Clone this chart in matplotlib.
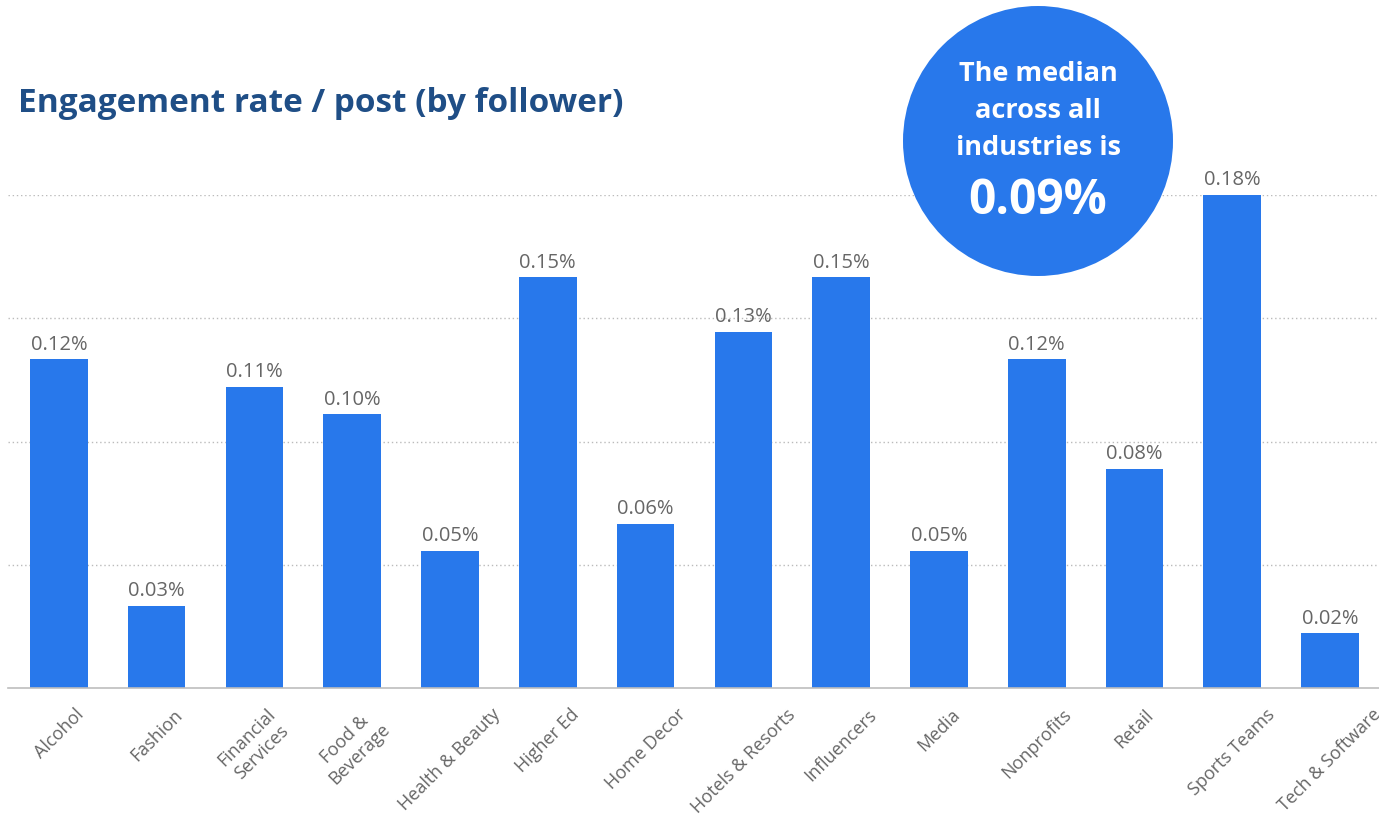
import matplotlib
matplotlib.use("Agg")
import matplotlib.pyplot as plt
from matplotlib.patches import Circle

plt.rcParams["font.family"] = ["Open Sans", "DejaVu Sans"]

# Data
industries = [
    "Alcohol", "Fashion", "Financial\nServices", "Food &\nBeverage",
    "Health & Beauty", "Higher Ed", "Home Decor", "Hotels & Resorts",
    "Influencers", "Media", "Nonprofits", "Retail", "Sports Teams",
    "Tech & Software",
]
rates = [0.12, 0.03, 0.11, 0.10, 0.05, 0.15, 0.06, 0.13, 0.15, 0.05, 0.12, 0.08, 0.18, 0.02]
grid_ticks = [0.045, 0.09, 0.135, 0.18]
median_rate = 0.09

BAR_COLOR = "#2878EB"
TITLE_COLOR = "#1F4E86"
LABEL_COLOR = "#666666"

W, H = 1379, 820
fig = plt.figure(figsize=(W / 100, H / 100), dpi=100)
ax = fig.add_axes([8 / W, 1 - 689 / H, 1 - 8 / W, (689 - 196) / H])

x = list(range(len(industries)))
bars = ax.bar(x, rates, width=0.59, color=BAR_COLOR, zorder=3)

ax.set_xlim(-0.52, 13.5)
ax.set_ylim(0, 0.18)
ax.set_yticks(grid_ticks)
ax.yaxis.grid(True, linestyle=(0, (1, 2)), color="#bbbbbb", linewidth=1)
ax.tick_params(axis="y", left=False, labelleft=False)
ax.tick_params(axis="x", length=0, pad=12)

for s in ["top", "right", "left"]:
    ax.spines[s].set_visible(False)
ax.spines["bottom"].set_color("#bdbdbd")
ax.spines["bottom"].set_linewidth(1.2)
ax.spines["bottom"].set_zorder(4)

# rotated labels: bbox centred on the tick, top aligned under the axis
ax.set_xticks(x)
ax.set_xticklabels(industries, rotation=45, ha="center", va="top",
                   fontsize=13, color=LABEL_COLOR, multialignment="center")

for b, v in zip(bars, rates):
    ax.annotate(f"{v:.2f}%", (b.get_x() + b.get_width() / 2, v),
                xytext=(0, 4), textcoords="offset points", ha="center",
                va="bottom", fontsize=14.5, color=LABEL_COLOR, clip_on=False)

fig.text(18 / W, 1 - 103 / H, "Engagement rate / post (by follower)",
         fontsize=24, fontweight="bold", color=TITLE_COLOR, va="center", ha="left")

# median bubble
circ = Circle((1038 / 100, (H - 142) / 100), 1.35, transform=fig.dpi_scale_trans,
              facecolor=BAR_COLOR, edgecolor="none", zorder=10)
fig.patches.append(circ)
fig.text(1038 / W, 1 - 111 / H, "The median\nacross all\nindustries is",
         fontsize=19.5, fontweight="bold", color="white", ha="center", va="center",
         linespacing=1.55, zorder=11)
fig.text(1038 / W, 1 - 202 / H, f"{median_rate:.2f}%",
         fontsize=34.5, fontweight="bold", color="white", ha="center", va="center",
         zorder=11)

fig.savefig("out.png", dpi=100)
